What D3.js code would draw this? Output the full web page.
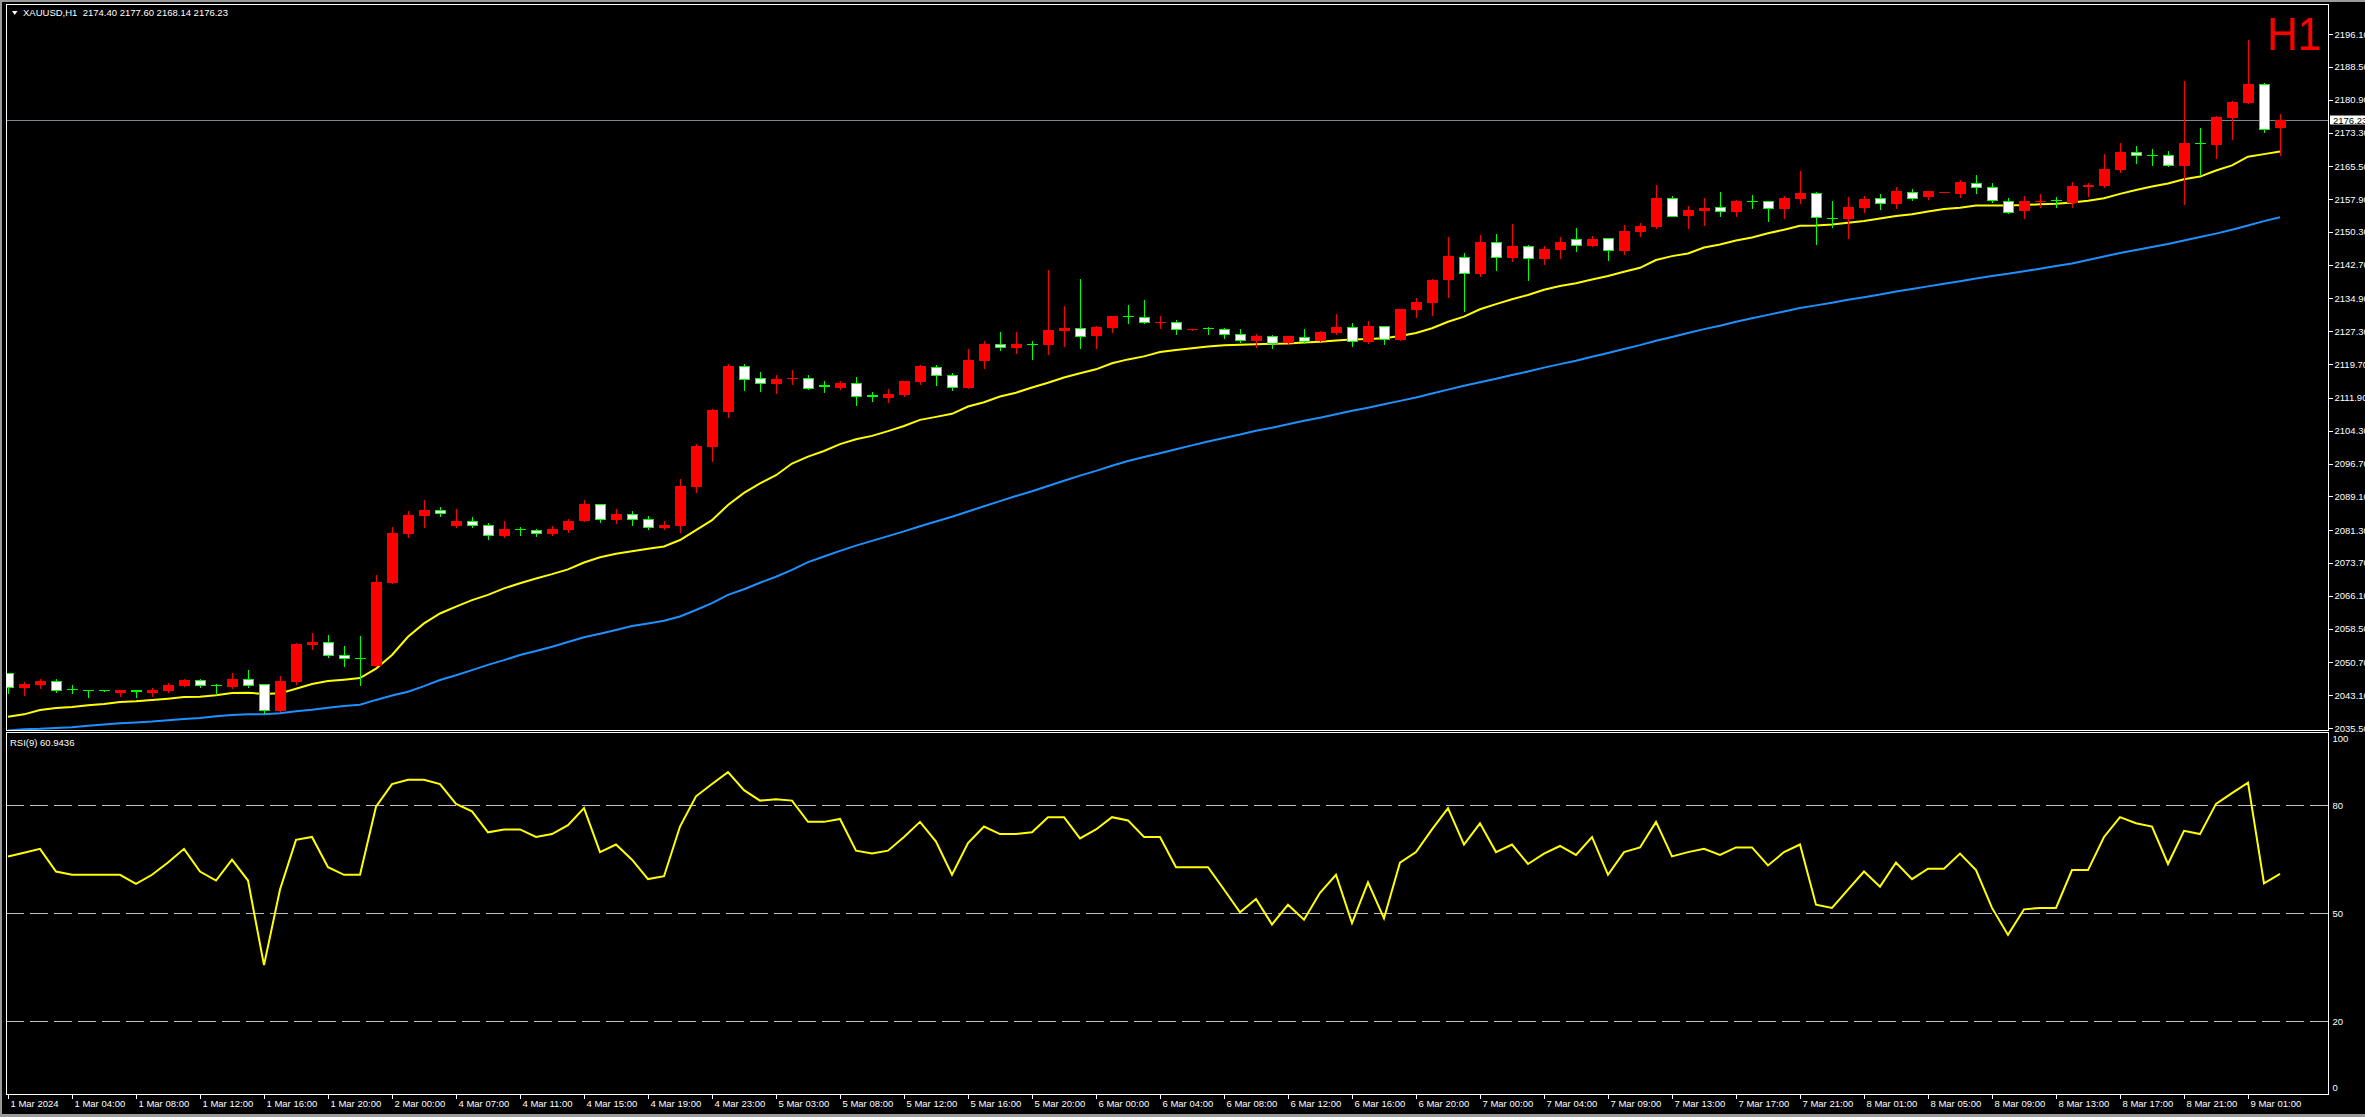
<!DOCTYPE html>
<html><head><meta charset="utf-8">
<script src="https://cdnjs.cloudflare.com/ajax/libs/d3/7.8.5/d3.min.js"></script>
<style>html,body{margin:0;padding:0;background:#000;overflow:hidden}
text{font-family:"Liberation Sans",Arial,sans-serif}</style>
</head><body>
<svg id="c" width="2365" height="1117"></svg>
<script>
const symbolTitle = "XAUUSD,H1  2174.40 2177.60 2168.14 2176.23";
const timeframeLabel = "H1";
const rsiTitle = "RSI(9) 60.9436";
const lastPrice = 2176.23;

const timeLabels = ["1 Mar 2024","1 Mar 04:00","1 Mar 08:00","1 Mar 12:00","1 Mar 16:00","1 Mar 20:00","2 Mar 00:00",
"4 Mar 07:00","4 Mar 11:00","4 Mar 15:00","4 Mar 19:00","4 Mar 23:00","5 Mar 03:00","5 Mar 08:00","5 Mar 12:00",
"5 Mar 16:00","5 Mar 20:00","6 Mar 00:00","6 Mar 04:00","6 Mar 08:00","6 Mar 12:00","6 Mar 16:00","6 Mar 20:00",
"7 Mar 00:00","7 Mar 04:00","7 Mar 09:00","7 Mar 13:00","7 Mar 17:00","7 Mar 21:00","8 Mar 01:00","8 Mar 05:00",
"8 Mar 09:00","8 Mar 13:00","8 Mar 17:00","8 Mar 21:00","9 Mar 01:00"];

const openP = [2048.15,2044.83,2045.45,2046.30,2044.45,2044.22,2044.22,2043.67,2044.22,2043.67,
2044.14,2045.30,2046.61,2045.37,2045.06,2046.76,2045.60,2039.51,2046.14,2054.71,
2055.32,2052.31,2051.70,2049.92,2069.05,2080.47,2084.64,2085.95,2082.32,2083.40,
2082.40,2079.93,2081.48,2081.24,2080.47,2081.40,2083.40,2087.34,2083.71,2085.02,
2083.79,2081.86,2082.32,2091.35,2100.61,2108.71,2119.27,2116.42,2115.19,2116.27,
2116.41,2114.87,2114.25,2115.26,2112.56,2111.94,2112.56,2115.64,2119.04,2117.11,
2114.25,2120.50,2124.28,2123.51,2124.36,2124.13,2127.44,2127.98,2126.29,2128.14,
2130.76,2130.53,2129.37,2129.37,2127.60,2127.98,2127.75,2126.59,2125.13,2126.14,
2124.52,2125.91,2125.14,2126.99,2128.22,2124.90,2128.45,2125.37,2132.31,2133.85,
2139.25,2144.42,2140.64,2147.89,2144.34,2146.97,2144.11,2146.20,2148.59,2147.12,
2148.82,2145.96,2150.36,2151.44,2158.07,2154.06,2155.14,2155.99,2154.99,2157.46,
2157.38,2155.68,2157.92,2159.23,2153.60,2153.29,2155.91,2158.07,2156.83,2159.61,
2158.38,2159.46,2159.15,2161.70,2160.62,2157.53,2155.22,2157.30,2157.61,2157.07,
2160.77,2161.00,2164.70,2168.79,2168.18,2168.02,2165.63,2170.80,2170.41,2176.74,
2180.21,2184.45,2174.40];
const highP = [2048.30,2046.14,2046.76,2046.76,2045.37,2044.22,2044.25,2044.29,2044.37,2044.76,
2045.91,2046.84,2046.76,2045.68,2048.30,2048.92,2045.60,2047.53,2055.17,2057.48,
2057.02,2054.47,2056.79,2070.83,2081.94,2085.64,2088.27,2086.57,2086.18,2084.33,
2082.94,2083.40,2082.02,2081.55,2082.17,2083.87,2088.27,2087.42,2086.18,2085.72,
2084.56,2083.40,2093.12,2101.22,2109.32,2119.74,2119.74,2117.89,2117.11,2118.35,
2117.18,2115.80,2115.80,2116.72,2113.25,2113.94,2115.88,2119.50,2119.50,2117.65,
2123.20,2125.05,2127.13,2127.13,2125.05,2141.48,2133.15,2139.40,2128.52,2130.92,
2133.38,2134.54,2130.84,2129.91,2127.75,2128.29,2128.06,2127.83,2126.67,2126.45,
2126.22,2127.84,2127.37,2131.38,2129.22,2129.69,2128.61,2132.54,2135.01,2139.41,
2149.13,2145.42,2149.59,2149.82,2152.14,2147.27,2147.04,2149.13,2151.21,2149.36,
2148.90,2151.90,2152.29,2161.16,2158.61,2156.30,2158.15,2159.54,2157.69,2158.85,
2157.46,2158.61,2164.40,2159.54,2157.45,2158.38,2158.61,2159.07,2160.69,2160.23,
2159.77,2159.61,2162.31,2163.47,2161.54,2158.07,2158.61,2159.07,2158.46,2161.77,
2161.54,2168.33,2170.88,2170.18,2169.49,2169.02,2185.22,2174.35,2177.12,2180.60,
2194.71,2184.76,2177.60];
const lowP = [2043.67,2043.13,2044.83,2043.83,2043.67,2042.75,2043.95,2042.98,2042.75,2042.98,
2043.91,2045.30,2045.06,2043.29,2044.83,2045.06,2039.05,2039.51,2045.76,2053.78,
2052.00,2049.92,2045.53,2049.92,2069.05,2079.78,2082.09,2084.64,2082.09,2082.09,
2079.32,2079.78,2080.24,2080.01,2080.17,2080.94,2083.32,2083.17,2083.02,2082.56,
2081.63,2081.63,2080.94,2090.19,2097.37,2107.55,2113.80,2113.41,2113.10,2115.19,
2114.02,2113.25,2113.94,2110.32,2111.17,2111.01,2112.40,2115.18,2114.95,2113.79,
2114.17,2118.88,2123.05,2122.28,2120.89,2122.12,2123.90,2123.51,2123.51,2127.21,
2129.22,2129.29,2128.14,2126.75,2127.60,2126.75,2125.82,2124.90,2123.74,2123.52,
2124.44,2124.67,2125.06,2126.76,2123.98,2124.52,2124.44,2125.29,2130.69,2131.08,
2135.24,2132.00,2140.18,2141.57,2143.65,2139.25,2142.95,2144.34,2145.96,2147.04,
2143.88,2145.27,2149.43,2151.29,2153.98,2151.29,2151.90,2154.06,2154.06,2155.91,
2152.82,2153.60,2157.07,2147.58,2151.36,2148.97,2154.99,2155.68,2155.91,2157.76,
2157.99,2159.46,2158.46,2159.38,2157.22,2154.75,2153.60,2156.14,2156.14,2156.14,
2158.61,2160.77,2164.16,2166.32,2165.86,2165.63,2156.84,2163.39,2167.48,2171.88,
2180.13,2173.50,2168.14];
const closeP = [2044.91,2045.68,2046.37,2044.37,2044.22,2043.98,2044.00,2044.29,2043.75,2044.37,
2045.45,2046.61,2045.37,2045.22,2046.84,2045.53,2039.59,2046.37,2054.94,2055.40,
2052.31,2051.62,2051.54,2069.28,2080.62,2084.79,2085.95,2085.18,2083.40,2082.40,
2080.09,2081.48,2081.32,2080.71,2081.48,2083.40,2087.34,2083.79,2085.02,2083.79,
2081.94,2082.48,2091.50,2100.76,2109.09,2119.27,2116.34,2115.26,2116.27,2116.42,
2114.25,2114.33,2115.33,2112.40,2112.02,2112.79,2115.80,2119.27,2117.11,2114.33,
2120.66,2124.36,2123.59,2124.36,2124.20,2127.60,2128.06,2126.29,2128.29,2130.84,
2130.61,2129.37,2129.53,2127.75,2127.75,2127.83,2126.59,2125.21,2126.21,2124.52,
2126.14,2124.98,2127.14,2128.30,2125.06,2128.53,2125.60,2132.46,2134.08,2139.18,
2144.73,2140.72,2147.97,2144.58,2146.97,2144.19,2146.35,2147.97,2147.20,2148.59,
2146.04,2150.51,2151.67,2158.15,2154.06,2155.37,2155.84,2155.07,2157.46,2157.30,
2155.76,2158.07,2159.30,2153.67,2153.44,2155.99,2157.84,2156.91,2159.69,2158.22,
2159.69,2159.61,2161.77,2160.62,2157.61,2154.98,2157.38,2157.45,2157.45,2161.00,
2161.23,2164.86,2168.79,2168.18,2168.02,2165.71,2170.87,2170.64,2176.89,2180.36,
2184.53,2174.19,2176.23];

const maFast = [2038.1,2038.66,2039.66,2040.13,2040.36,2040.74,2041.05,2041.52,2041.67,2041.98,
2042.29,2042.67,2042.75,2043.06,2043.6,2043.67,2043.37,2043.52,2044.6,2045.68,
2046.37,2046.68,2047.07,2049.23,2052.4,2056.6,2059.7,2062.0,2063.6,2065.1,
2066.3,2067.8,2069.0,2070.1,2071.1,2072.2,2073.8,2075.0,2075.8,2076.4,
2077.0,2077.5,2079.0,2081.3,2083.6,2087.1,2089.9,2092.1,2094.0,2096.7,
2098.3,2099.6,2101.2,2102.3,2103.1,2104.2,2105.4,2106.8,2107.5,2108.2,
2109.9,2110.9,2112.2,2113.1,2114.3,2115.4,2116.6,2117.6,2118.5,2119.9,
2120.8,2121.5,2122.5,2123.0,2123.4,2123.8,2124.1,2124.2,2124.3,2124.4,
2124.5,2124.7,2124.9,2125.2,2125.4,2125.5,2125.7,2126.2,2126.9,2128.0,
2129.5,2130.7,2132.4,2133.6,2134.7,2135.7,2136.9,2137.8,2138.4,2139.3,
2140.1,2141.1,2142.0,2143.8,2144.7,2145.3,2146.7,2147.4,2148.3,2149.0,
2150.0,2150.8,2151.7,2151.8,2152.0,2152.4,2152.8,2153.4,2154.0,2154.4,
2155.0,2155.6,2155.9,2156.4,2156.4,2156.4,2156.5,2156.7,2156.8,2157.1,
2157.5,2158.1,2159.1,2160.0,2160.8,2161.5,2162.5,2163.1,2164.5,2165.7,
2167.7,2168.3,2168.9];
const maSlow = [2034.9,2035.2,2035.3,2035.5,2035.7,2036.0,2036.3,2036.6,2036.8,2037.0,
2037.3,2037.6,2037.8,2038.2,2038.5,2038.7,2038.7,2038.9,2039.4,2039.7,
2040.2,2040.6,2040.9,2042.0,2043.0,2043.9,2045.2,2046.6,2047.7,2048.9,
2050.1,2051.2,2052.4,2053.3,2054.3,2055.4,2056.5,2057.3,2058.2,2059.1,
2059.7,2060.3,2061.3,2062.8,2064.4,2066.3,2067.6,2069.1,2070.5,2072.1,
2073.9,2075.2,2076.5,2077.7,2078.8,2079.9,2081.0,2082.2,2083.3,2084.4,
2085.6,2086.8,2088.0,2089.2,2090.3,2091.5,2092.7,2093.9,2095.0,2096.2,
2097.3,2098.2,2099.1,2100.0,2100.9,2101.8,2102.6,2103.4,2104.3,2105.0,
2105.8,2106.6,2107.3,2108.1,2108.9,2109.6,2110.4,2111.2,2112.0,2112.9,
2113.8,2114.7,2115.5,2116.3,2117.2,2118.0,2118.9,2119.7,2120.5,2121.4,
2122.3,2123.2,2124.1,2125.1,2126.0,2126.9,2127.8,2128.6,2129.5,2130.3,
2131.1,2131.9,2132.7,2133.3,2133.9,2134.6,2135.2,2135.8,2136.5,2137.1,
2137.7,2138.3,2138.9,2139.5,2140.1,2140.6,2141.2,2141.8,2142.4,2143.0,
2143.8,2144.6,2145.4,2146.1,2146.8,2147.5,2148.3,2149.1,2149.9,2150.8,
2151.8,2152.8,2153.7];
const rsiVals = [65.8,66.8,67.9,61.6,60.7,60.7,60.7,60.7,58.2,60.7,
64.1,67.9,61.6,59.1,64.9,59.1,35.6,56.6,70.4,71.2,
62.8,60.7,60.7,79.6,85.9,87.1,87.1,85.9,80.4,78.3,
72.5,73.3,73.3,71.2,72.0,74.5,79.2,67.0,69.1,64.9,
59.5,60.3,74.1,82.5,85.9,89.2,84.2,81.3,81.7,81.3,
75.4,75.4,76.2,67.4,66.6,67.4,71.2,75.4,69.9,60.7,
69.5,74.1,72.0,72.0,72.5,76.7,76.7,70.8,73.3,76.7,
75.8,71.2,71.2,62.8,62.8,62.8,56.6,50.3,54.0,46.9,
52.4,48.2,55.7,60.7,47.3,58.6,48.6,64.1,67.0,73.3,
79.2,69.1,75.0,67.0,69.1,63.7,66.6,68.7,66.2,71.2,
60.7,67.0,68.3,75.4,65.8,67.0,67.9,66.2,68.3,68.3,
63.3,67.0,69.1,52.4,51.5,56.6,61.6,57.4,64.1,59.5,
62.4,62.4,66.6,62.0,51.5,44.0,51.1,51.5,51.5,62.0,
62.0,71.2,76.7,75.0,74.1,63.7,72.9,72.0,80.4,83.4,
86.3,58.3,60.94];

const priceTicks = [2196.10,2188.50,2180.90,2173.30,2165.50,2157.90,2150.30,2142.70,2134.90,2127.30,2119.70,
2111.90,2104.30,2096.70,2089.10,2081.30,2073.70,2066.10,2058.50,2050.70,2043.10,2035.50];
const rsiTicks = [100,80,50,20,0];
const rsiLevels = [80,50,20];

// ---------- layout ----------
const W = 2365, H = 1117;
const L = 6, R = 2328, mainTop = 4, mainBot = 730, rsiTop = 732, rsiBot = 1094;
const n = closeP.length;
const x = d3.scaleLinear().domain([0, n - 1]).range([8, 8 + 16 * (n - 1)]);
const y = d3.scaleLinear().domain([2035.5, 2196.1]).range([728, 34]);
const yr = d3.scaleLinear().domain([0, 100]).range([1093.3, 733.3]);

const svg = d3.select("#c");
svg.append("rect").attr("width", W).attr("height", H).attr("fill", "#000");
// window frame bits
svg.append("rect").attr("x", 0).attr("y", 0).attr("width", W).attr("height", 2).attr("fill", "#9a9a9a");
svg.append("rect").attr("x", 0).attr("y", 0).attr("width", 2).attr("height", H).attr("fill", "#9a9a9a");
svg.append("rect").attr("x", 0).attr("y", 1114).attr("width", W).attr("height", 3).attr("fill", "#9a9a9a");

const defs = svg.append("defs");
defs.append("clipPath").attr("id", "clipMain").append("rect")
  .attr("x", L + 1).attr("y", mainTop + 1).attr("width", R - L - 1).attr("height", mainBot - mainTop - 1);
defs.append("clipPath").attr("id", "clipRsi").append("rect")
  .attr("x", L + 1).attr("y", rsiTop + 1).attr("width", R - L - 1).attr("height", rsiBot - rsiTop - 1);

const main = svg.append("g").attr("clip-path", "url(#clipMain)");

// current price line
main.append("line").attr("x1", L).attr("x2", R)
  .attr("y1", Math.round(y(lastPrice)) + 0.5).attr("y2", Math.round(y(lastPrice)) + 0.5)
  .attr("stroke", "#7a8794").attr("stroke-width", 1).attr("shape-rendering", "crispEdges");

// moving averages
const maLine = d3.line().x((d, i) => x(i)).y(d => y(d));
main.append("path").datum(maSlow).attr("d", maLine).attr("fill", "none")
  .attr("stroke", "#1e90ff").attr("stroke-width", 2);
main.append("path").datum(maFast).attr("d", maLine).attr("fill", "none")
  .attr("stroke", "#ffff00").attr("stroke-width", 2);

// candles
const bars = d3.range(n).map(i => ({i, o: openP[i], h: highP[i], l: lowP[i], c: closeP[i]}));
const cg = main.append("g").attr("shape-rendering", "crispEdges");
bars.forEach(b => {
  const cx = Math.round(x(b.i));
  const up = b.c >= b.o;
  const col = up ? "#ff0000" : "#00ff00";
  const yh = Math.round(y(b.h)), yl = Math.round(y(b.l));
  const yt = Math.round(y(Math.max(b.o, b.c))), yb = Math.round(y(Math.min(b.o, b.c)));
  cg.append("rect").attr("x", cx).attr("y", yh).attr("width", 1).attr("height", Math.max(1, yl - yh + 1)).attr("fill", col);
  const hgt = Math.max(1, yb - yt);
  if (up) {
    cg.append("rect").attr("x", cx - 5).attr("y", yt).attr("width", 11).attr("height", hgt).attr("fill", "#ff0000");
  } else if (hgt <= 2) {
    cg.append("rect").attr("x", cx - 5).attr("y", yt).attr("width", 11).attr("height", hgt).attr("fill", "#00ff00");
  } else {
    cg.append("rect").attr("x", cx - 5).attr("y", yt).attr("width", 11).attr("height", hgt + 1).attr("fill", "#00ff00");
    cg.append("rect").attr("x", cx - 4).attr("y", yt + 1).attr("width", 9).attr("height", hgt - 1).attr("fill", "#ffffff");
  }
});

// RSI panel
const rg = svg.append("g").attr("clip-path", "url(#clipRsi)");
rg.selectAll("line.lvl").data(rsiLevels).join("line").attr("class", "lvl")
  .attr("x1", L).attr("x2", R)
  .attr("y1", d => Math.round(yr(d)) + 0.5).attr("y2", d => Math.round(yr(d)) + 0.5)
  .attr("stroke", "#c0c0c0").attr("stroke-width", 1).attr("stroke-dasharray", "18,6")
  .attr("shape-rendering", "crispEdges");
rg.append("path").datum(rsiVals)
  .attr("d", d3.line().x((d, i) => x(i)).y(d => yr(d)))
  .attr("fill", "none").attr("stroke", "#ffff00").attr("stroke-width", 2);

// panel borders
const bord = svg.append("g").attr("stroke", "#ffffff").attr("stroke-width", 1).attr("fill", "none")
  .attr("shape-rendering", "crispEdges");
bord.append("rect").attr("x", L + 0.5).attr("y", mainTop + 0.5).attr("width", R - L).attr("height", mainBot - mainTop);
bord.append("rect").attr("x", L + 0.5).attr("y", rsiTop + 0.5).attr("width", R - L).attr("height", rsiBot - rsiTop);

// price axis
const fontSize = "9.5px";
const pAxis = svg.append("g").attr("transform", `translate(${R + 0.5},0)`)
  .call(d3.axisRight(y).tickValues(priceTicks).tickFormat(d3.format(".2f")).tickSizeInner(4).tickSizeOuter(0).tickPadding(2));
pAxis.select(".domain").remove();
pAxis.selectAll("line").attr("stroke", "#fff").attr("shape-rendering", "crispEdges");
pAxis.selectAll("text").attr("fill", "#fff").style("font-size", fontSize);

// RSI axis
const rAxis = svg.append("g").attr("transform", `translate(${R + 0.5},0)`)
  .call(d3.axisRight(yr).tickValues(rsiTicks).tickFormat(d3.format("d")).tickSize(0).tickPadding(4));
rAxis.select(".domain").remove();
rAxis.selectAll("text").attr("fill", "#fff").style("font-size", fontSize)
  .attr("dy", d => d === 100 ? "0.9em" : d === 0 ? "-0.25em" : "0.32em");

// time axis
const tickIdx = timeLabels.map((t, k) => k * 4);
const tAxis = svg.append("g").attr("transform", `translate(0,${rsiBot + 0.5})`)
  .call(d3.axisBottom(x).tickValues(tickIdx).tickFormat((d, k) => timeLabels[k]).tickSizeInner(4).tickSizeOuter(0).tickPadding(2));
tAxis.select(".domain").remove();
tAxis.selectAll("line").attr("stroke", "#fff").attr("shape-rendering", "crispEdges");
tAxis.selectAll("text").attr("fill", "#fff").style("font-size", fontSize)
  .attr("text-anchor", "start").attr("x", 2);

// current price label
const py = Math.round(y(lastPrice));
svg.append("rect").attr("x", R + 2).attr("y", py - 4.5).attr("width", W - R - 2).attr("height", 9).attr("fill", "#fff");
svg.append("text").attr("x", R + 5).attr("y", py + 3.5).attr("fill", "#000").style("font-size", fontSize).text(lastPrice.toFixed(2));

// titles
svg.append("path").attr("d", "M12,11 L17.5,11 L14.75,15 Z").attr("fill", "#fff");
svg.append("text").attr("x", 23).attr("y", 16).attr("fill", "#fff").style("font-size", fontSize)
  .attr("xml:space", "preserve").style("white-space", "pre").text(symbolTitle);
svg.append("text").attr("x", 10).attr("y", 746).attr("fill", "#fff").style("font-size", fontSize).text(rsiTitle);
svg.append("text").attr("x", 2267).attr("y", 50).attr("fill", "#ff0000").style("font-size", "46px")
  .attr("textLength", 54).attr("lengthAdjust", "spacingAndGlyphs").text(timeframeLabel);
</script>
</body></html>
